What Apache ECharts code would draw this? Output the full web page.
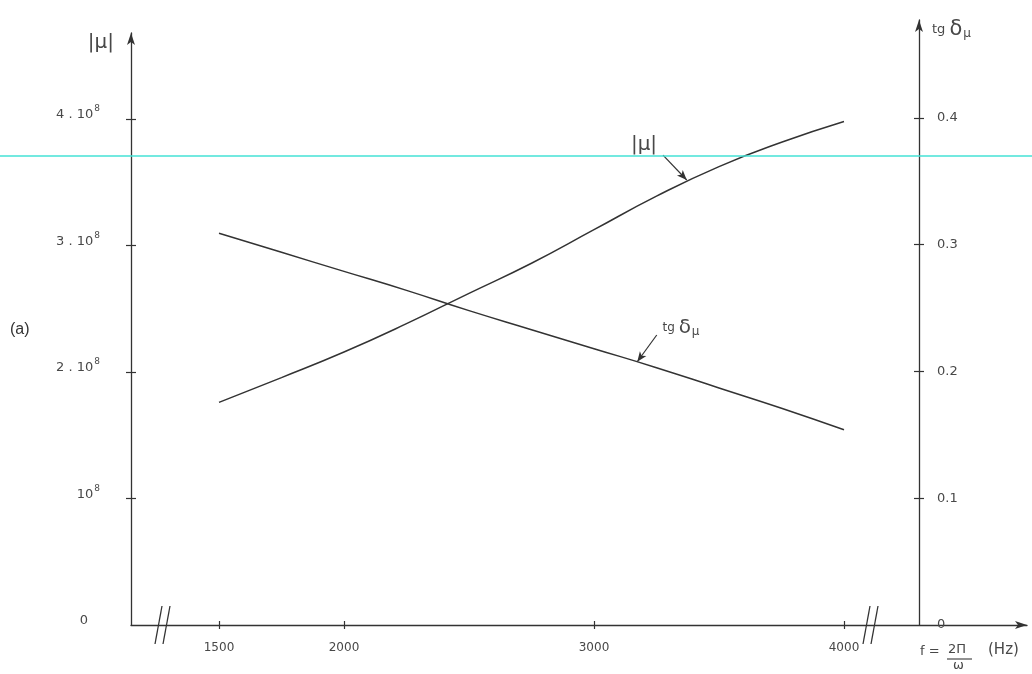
<!DOCTYPE html>
<html>
<head>
<meta charset="utf-8">
<script src="https://cdn.jsdelivr.net/npm/echarts@6/dist/echarts.min.js"></script>
<style>html,body{margin:0;padding:0;background:#fff}#c{width:1032px;height:674px}</style>
</head>
<body>
<div id="c"></div>
<script>
// frequency f (Hz)
const freq = [1500, 1750, 2000, 2250, 2500, 2750, 3000, 3250, 3500, 3750, 4000];
// |mu| in units of 10^8
const muE8 = [1.76, 1.956, 2.158, 2.382, 2.622, 2.86, 3.125, 3.39, 3.624, 3.816, 3.98];
// tg delta_mu
const tgDelta = [0.309, 0.294, 0.279, 0.264, 0.248, 0.233, 0.218, 0.203, 0.187, 0.171, 0.154];
// axis ticks
const xTicks = [1500, 2000, 3000, 4000];
const muTicks = [0, 1, 2, 3, 4];
const tgTicks = [0, 0.1, 0.2, 0.3, 0.4];
// axis break positions (Hz)
const breakAt = [1276, 4108];

const INK = '#333';
const TXT = '#484848';
const FONT = 'DejaVu Sans';

const chart = echarts.init(document.getElementById('c'), null, {renderer: 'canvas'});

function muLabel(v) {
  if (v === 0) return '{z|0}';
  if (v === 1) return '{b|10}{s|8}';
  return '{b|' + v + ' . 10}{s|8}';
}

const tgRich = (t, d, s) => ({
  t: {fontSize: t, color: TXT, lineHeight: 16, fontFamily: FONT},
  d: {fontSize: d, color: TXT, lineHeight: 20, fontFamily: FONT},
  s: {fontSize: s, color: TXT, lineHeight: 12, padding: [7, 0, 0, 1], fontFamily: FONT}
});

const option = {
  animation: false,
  backgroundColor: '#fff',
  textStyle: {fontFamily: FONT},
  grid: [
    {left: 131, right: 5, top: 33, bottom: 49},
    {left: 131, right: 113, top: 20, bottom: 49}
  ],
  xAxis: [
    {
      type: 'value', gridIndex: 0, min: 1148, max: 4732, position: 'bottom',
      axisLine: {show: true, symbol: ['none', 'arrow'], symbolSize: [6, 12], lineStyle: {color: INK, width: 1.3}},
      axisTick: {show: true, customValues: xTicks, length: 4, lineStyle: {color: INK, width: 1.2}},
      axisLabel: {customValues: xTicks, margin: 17, color: TXT, fontSize: 12, fontFamily: FONT, formatter: v => String(v)},
      splitLine: {show: false}
    },
    {
      type: 'value', gridIndex: 1, min: 1148, max: 4300, show: false
    },
    {
      type: 'value', gridIndex: 0, min: 1148, max: 4732, position: 'bottom',
      axisLine: {show: false},
      axisTick: {show: true, inside: true, customValues: xTicks, length: 4, lineStyle: {color: INK, width: 1.2}},
      axisLabel: {show: false},
      splitLine: {show: false}
    }
  ],
  yAxis: [
    {
      type: 'value', gridIndex: 0, min: 0, max: 4.68, position: 'left',
      name: '|μ|', nameLocation: 'end', nameGap: 0,
      nameTextStyle: {fontSize: 20, color: TXT, align: 'right', verticalAlign: 'top', padding: [0, 17, 0, 0], fontFamily: FONT},
      axisLine: {show: true, symbol: ['none', 'arrow'], symbolSize: [6, 12], lineStyle: {color: INK, width: 1.3}},
      axisTick: {show: true, customValues: [1, 2, 3, 4], length: 5, lineStyle: {color: INK, width: 1.2}},
      axisLabel: {
        customValues: muTicks, margin: 31, color: TXT, formatter: muLabel, padding: [0, 0, 8, 0],
        rich: {
          b: {fontSize: 13, lineHeight: 14, color: TXT, fontFamily: FONT},
          s: {fontSize: 9, lineHeight: 10, color: TXT, padding: [0, 0, 12, 1], fontFamily: FONT},
          z: {fontSize: 13, lineHeight: 14, color: TXT, padding: [0, 12, 0, 0], fontFamily: FONT}
        }
      },
      splitLine: {show: false}
    },
    {
      type: 'value', gridIndex: 0, min: 0, max: 4.68, position: 'left',
      axisLine: {show: false},
      axisTick: {show: true, inside: true, customValues: [1, 2, 3, 4], length: 5, lineStyle: {color: INK, width: 1.2}},
      axisLabel: {show: false},
      splitLine: {show: false}
    },
    {
      type: 'value', gridIndex: 1, min: 0, max: 0.4773, position: 'right',
      name: '{t|tg }{d|δ}{s|μ}', nameLocation: 'end', nameGap: 0,
      nameTextStyle: {
        align: 'left', verticalAlign: 'top', padding: [0, 0, 0, 13], color: TXT,
        rich: tgRich(13, 21, 12)
      },
      axisLine: {show: true, symbol: ['none', 'arrow'], symbolSize: [6, 12], lineStyle: {color: INK, width: 1.3}},
      axisTick: {show: true, customValues: [0.1, 0.2, 0.3, 0.4], length: 5, lineStyle: {color: INK, width: 1.2}},
      axisLabel: {
        customValues: tgTicks, margin: 18, color: TXT, fontSize: 13, padding: [0, 0, 6, 0],
        formatter: v => v === 0 ? '0' : v.toFixed(1)
      },
      splitLine: {show: false}
    },
    {
      type: 'value', gridIndex: 1, min: 0, max: 0.4773, position: 'right',
      axisLine: {show: false},
      axisTick: {show: true, inside: true, customValues: [0.1, 0.2, 0.3, 0.4], length: 5, lineStyle: {color: INK, width: 1.2}},
      axisLabel: {show: false},
      splitLine: {show: false}
    }
  ],
  graphic: [
    {type: 'line', z: 100, shape: {x1: 0, y1: 156, x2: 1032, y2: 156}, style: {stroke: '#45e2d6', lineWidth: 1.5}},
    {type: 'text', left: 10, top: 322, style: {text: '(a)', fontSize: 16, fontFamily: 'Liberation Sans', fill: '#333'}},
    {type: 'text', left: 920, top: 645, style: {text: 'f =', fontSize: 13, fontFamily: FONT, fill: TXT}},
    {type: 'text', left: 948, top: 643, style: {text: '2Π', fontSize: 13, fontFamily: FONT, fill: TXT}},
    {type: 'line', shape: {x1: 947, y1: 659, x2: 972, y2: 659}, style: {stroke: TXT, lineWidth: 1.2}},
    {type: 'text', left: 953, top: 659, style: {text: 'ω', fontSize: 13, fontFamily: FONT, fill: TXT}},
    {type: 'text', left: 988, top: 643, style: {text: '(Hz)', fontSize: 15, fontFamily: FONT, fill: TXT}}
  ],
  series: [
    {
      name: '|μ|', type: 'line', xAxisIndex: 0, yAxisIndex: 0,
      data: freq.map((f, i) => [f, muE8[i]]),
      smooth: true, symbol: 'none',
      lineStyle: {color: INK, width: 1.5},
      markLine: {
        silent: true, symbol: ['none', 'arrow'], symbolSize: [6, 10],
        lineStyle: {color: INK, width: 1.2, type: 'solid'},
        label: {show: false},
        data: [[{coord: [3276, 3.715]}, {coord: [3371, 3.518]}]]
      },
      markPoint: {
        silent: true, symbol: 'circle', symbolSize: 0,
        label: {show: true, position: 'inside', formatter: '|μ|', fontSize: 20, color: TXT, fontFamily: FONT},
        data: [{coord: [3200, 3.80]}]
      }
    },
    {
      name: 'tg δμ', type: 'line', xAxisIndex: 1, yAxisIndex: 2,
      data: freq.map((f, i) => [f, tgDelta[i]]),
      smooth: true, symbol: 'none',
      lineStyle: {color: INK, width: 1.5},
      markLine: {
        silent: true, symbol: ['none', 'arrow'], symbolSize: [6, 10],
        lineStyle: {color: INK, width: 1.2, type: 'solid'},
        label: {show: false},
        data: [[{coord: [3251, 0.2288]}, {coord: [3173, 0.2077]}]]
      },
      markPoint: {
        silent: true, symbol: 'circle', symbolSize: 0,
        label: {
          show: true, position: 'inside', formatter: '{t|tg }{d|δ}{s|μ}',
          rich: tgRich(12, 20, 12)
        },
        data: [{coord: [3348, 0.2343]}]
      }
    },
    {
      name: 'breaks', type: 'custom', xAxisIndex: 0, yAxisIndex: 0, clip: false, silent: true,
      data: breakAt.map(f => [f, 0]),
      renderItem: function (params, api) {
        const p = api.coord([api.value(0), api.value(1)]);
        const st = {stroke: INK, lineWidth: 1.3};
        return {
          type: 'group',
          children: [
            {type: 'line', shape: {x1: p[0] - 8, y1: p[1] + 19, x2: p[0] - 1, y2: p[1] - 19}, style: st},
            {type: 'line', shape: {x1: p[0] + 0, y1: p[1] + 19, x2: p[0] + 7, y2: p[1] - 19}, style: st}
          ]
        };
      }
    }
  ]
};
chart.setOption(option);
</script>
</body>
</html>
